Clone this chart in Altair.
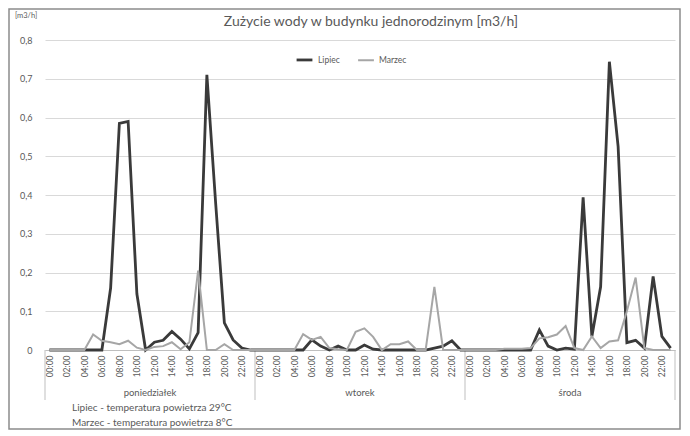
import altair as alt
import pandas as pd

series = ["Lipiec", "Marzec"]
days = ["poniedziałek", "wtorek", "środa"]
day_centers = [11.5, 35.5, 59.5]
day_bounds = [-0.5, 23.5, 47.5, 71.5]
y_ticks = [0.0, 0.1, 0.2, 0.3, 0.4, 0.5, 0.6, 0.7, 0.8]
x_ticks = list(range(0, 72, 2))

lipiec = [
    # poniedziałek
    0, 0, 0, 0, 0, 0, 0, 0.16, 0.585, 0.59, 0.145, 0.0,
    0.02, 0.025, 0.048, 0.028, 0.003, 0.045, 0.71, 0.38, 0.07, 0.026, 0.005, 0,
    # wtorek
    0, 0, 0, 0, 0, 0, 0.026, 0.01, 0, 0.01, 0, 0,
    0.013, 0.002, 0, 0, 0, 0, 0, 0, 0.005, 0.01, 0.024, 0,
    # środa
    0, 0, 0, 0, 0, 0, 0, 0, 0.052, 0.01, 0, 0.005,
    0.002, 0.394, 0.035, 0.163, 0.744, 0.525, 0.019, 0.025, 0.005, 0.19, 0.035, 0.005,
]
marzec = [
    # poniedziałek
    0, 0, 0, 0, 0, 0.04, 0.024, 0.02, 0.015, 0.024, 0.006, 0,
    0.008, 0.01, 0.02, 0.002, 0.02, 0.205, 0, 0, 0.015, 0, 0, 0,
    # wtorek
    0, 0, 0, 0, 0, 0.041, 0.026, 0.034, 0.005, 0.002, 0, 0.047,
    0.056, 0.034, 0, 0.015, 0.015, 0.022, 0, 0, 0.163, 0, 0, 0,
    # środa
    0, 0, 0, 0, 0.003, 0.003, 0.003, 0.005, 0.03, 0.033, 0.04, 0.062,
    0.005, 0, 0.035, 0.005, 0.022, 0.025, 0.1, 0.187, 0.005, 0, 0, 0,
]

rows = []
for name, vals in zip(series, [lipiec, marzec]):
    for i, v in enumerate(vals):
        rows.append({"idx": i, "value": v, "series": name})
df = pd.DataFrame(rows)

W, H = 630, 310
TXT = "#595959"
FONT = "Lato"

xscale = alt.Scale(domain=[-0.5, 71.5], nice=False, zero=False)
xaxis = alt.Axis(values=x_ticks,
                 labelExpr="(datum.value % 24 < 10 ? '0' : '') + (datum.value % 24) + ':00'",
                 labelAngle=270, title=None, grid=False, ticks=False,
                 domainColor="#bfbfbf", labelColor=TXT, labelFontSize=8.5,
                 labelPadding=5, labelFont=FONT, labelOverlap=False, labelFlush=False)

lines = alt.Chart(df).mark_line().encode(
    x=alt.X("idx:Q", scale=xscale, axis=xaxis),
    y=alt.Y("value:Q", scale=alt.Scale(domain=[0, 0.8], nice=False),
            axis=alt.Axis(values=y_ticks,
                          labelExpr="datum.value == 0 ? '0' : replace(format(datum.value, '.1f'), '.', ',')",
                          title=None, domain=False, ticks=False, gridColor="#d9d9d9",
                          labelColor=TXT, labelFontSize=9, labelPadding=13, labelFont=FONT)),
    color=alt.Color("series:N", scale=alt.Scale(domain=series, range=["#3a3a3a", "#a6a6a6"]),
                    legend=alt.Legend(orient="none", legendX=250, legendY=10, direction="horizontal",
                                      title=None, symbolType="stroke", symbolStrokeWidth=2.5,
                                      symbolSize=250, labelFontSize=8.5, labelColor=TXT,
                                      labelFont=FONT, columnPadding=14)),
    strokeWidth=alt.StrokeWidth("series:N", scale=alt.Scale(domain=series, range=[2.8, 2.0]), legend=None),
)

seps = alt.Chart(pd.DataFrame({"b": day_bounds})).mark_rule(color="#bfbfbf", strokeWidth=1).encode(
    x=alt.X("b:Q", scale=xscale, axis=xaxis), y=alt.value(H), y2=alt.value(H + 50)
)

day_text = alt.Chart(pd.DataFrame({"c": day_centers, "d": days})).mark_text(
    fontSize=9.5, color=TXT, font=FONT, baseline="middle"
).encode(x=alt.X("c:Q", scale=xscale, axis=xaxis), y=alt.value(H + 43), text="d:N")

deco = pd.DataFrame({"a": [0]})
title = alt.Chart(deco).mark_text(
    text="Zużycie wody w budynku jednorodzinym [m3/h]", fontSize=14, color=TXT, font=FONT,
    baseline="middle", align="center"
).encode(x=alt.value(326), y=alt.value(-18))

unit = alt.Chart(deco).mark_text(
    text="[m3/h]", fontSize=7.5, color=TXT, font=FONT, baseline="middle", align="left"
).encode(x=alt.value(-30), y=alt.value(-24))

note = alt.Chart(deco).mark_text(
    text=["Lipiec - temperatura  powietrza 29°C", "Marzec - temperatura  powietrza 8°C"],
    fontSize=10, color=TXT, font=FONT, baseline="middle", align="left", lineHeight=15
).encode(x=alt.value(27), y=alt.value(H + 58))

frame = alt.Chart(deco).mark_rect(fill=None, stroke="#8c8c8c", strokeWidth=1.5).encode(
    x=alt.value(-36), x2=alt.value(W + 5), y=alt.value(-31), y2=alt.value(H + 79)
)

chart = alt.layer(frame, seps, lines, day_text, title, unit, note).properties(
    width=W, height=H,
    autosize=alt.AutoSizeParams(type="none"),
    padding={"left": 37, "top": 32, "right": 7, "bottom": 80},
    background="white",
).configure_view(stroke=None).configure_axisX(labelOverlap=False)

chart.save("out.html", embed_options={"renderer": "svg", "actions": False})
